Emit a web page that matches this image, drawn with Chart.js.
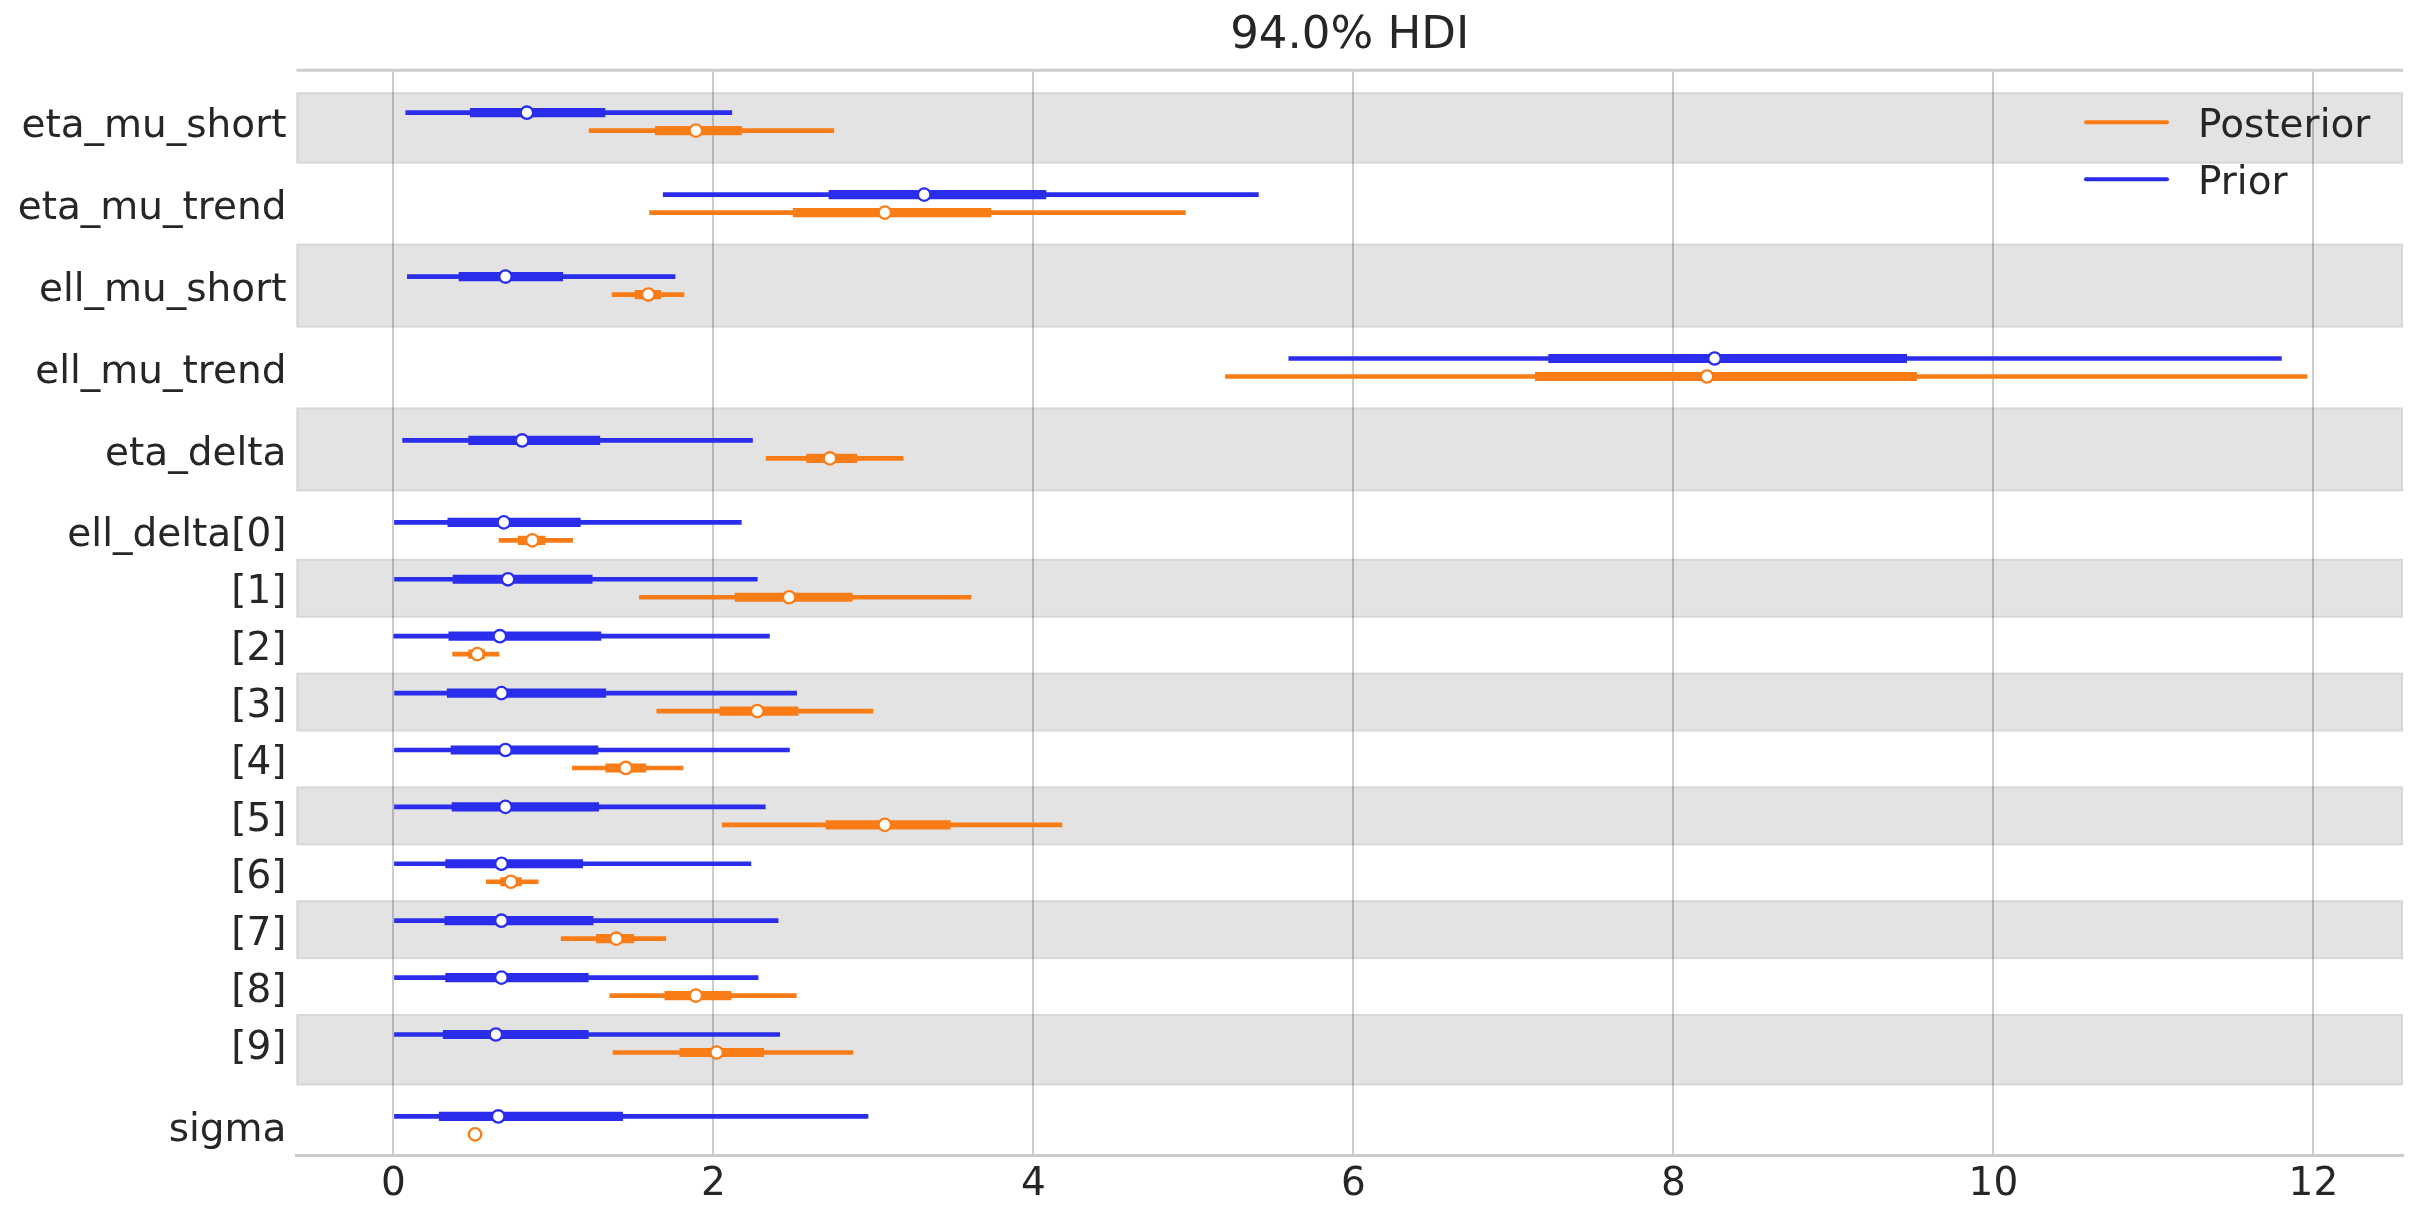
<!DOCTYPE html>
<html>
<head>
<meta charset="utf-8">
<script src="https://cdn.jsdelivr.net/npm/chart.js@4.4.1/dist/chart.umd.min.js"></script>
<style>
  html, body { margin: 0; padding: 0; background: #fff; }
  #wrap { width: 2423px; height: 1223px; }
</style>
</head>
<body>
<div id="wrap"><canvas id="forestChart"></canvas></div>
<script>
// rows of the forest plot, top to bottom
const rowLabels = ["eta_mu_short", "eta_mu_trend", "ell_mu_short", "ell_mu_trend", "eta_delta",
  "ell_delta[0]", "[1]", "[2]", "[3]", "[4]", "[5]", "[6]", "[7]", "[8]", "[9]", "sigma"];
const rowGroups = ["eta_mu_short", "eta_mu_trend", "ell_mu_short", "ell_mu_trend", "eta_delta",
  "ell_delta", "ell_delta", "ell_delta", "ell_delta", "ell_delta", "ell_delta", "ell_delta",
  "ell_delta", "ell_delta", "ell_delta", "sigma"];
const xTicks = [0, 2, 4, 6, 8, 10, 12];
const titleText = "94.0% HDI";

// prior: 94% HDI (thin), interquartile (thick), median
const priorLow = [0.077, 1.686, 0.087, 5.596, 0.057, 0.0, 0.007, 0.002, 0.007, 0.0, 0.0, 0.0, 0.0, 0.0, 0.0, 0.0];
const priorQ25 = [0.48, 2.722, 0.41, 7.22, 0.47, 0.34, 0.372, 0.346, 0.336, 0.36, 0.366, 0.326, 0.321, 0.326, 0.311, 0.286];
const priorMed = [0.834, 3.317, 0.70, 8.257, 0.804, 0.69, 0.716, 0.665, 0.675, 0.70, 0.70, 0.675, 0.675, 0.675, 0.64, 0.655];
const priorQ75 = [1.322, 4.078, 1.058, 9.458, 1.29, 1.168, 1.242, 1.297, 1.327, 1.278, 1.283, 1.183, 1.248, 1.218, 1.218, 1.432];
const priorHigh = [2.115, 5.406, 1.76, 11.8, 2.244, 2.174, 2.274, 2.35, 2.52, 2.475, 2.324, 2.234, 2.404, 2.279, 2.414, 2.966];

// posterior
const postLow = [1.223, 1.601, 1.366, 5.2, 2.329, 0.66, 1.537, 0.37, 1.646, 1.118, 2.055, 0.58, 1.048, 1.352, 1.372, 0.505];
const postQ25 = [1.637, 2.498, 1.51, 7.137, 2.583, 0.78, 2.135, 0.47, 2.04, 1.327, 2.703, 0.67, 1.268, 1.696, 1.79, 0.505];
const postMed = [1.89, 3.071, 1.593, 8.21, 2.728, 0.868, 2.473, 0.524, 2.274, 1.452, 3.071, 0.734, 1.393, 1.89, 2.02, 0.51];
const postQ75 = [2.176, 3.734, 1.67, 9.52, 2.897, 0.947, 2.867, 0.57, 2.529, 1.577, 3.48, 0.80, 1.502, 2.11, 2.314, 0.515];
const postHigh = [2.752, 4.95, 1.816, 11.96, 3.186, 1.12, 3.61, 0.66, 2.997, 1.81, 4.178, 0.905, 1.702, 2.518, 2.872, 0.515];

const BLUE = "#2a2eec";
const ORANGE = "#fa7c17";
const FONT = "DejaVu Sans";
const TEXT = "#262626";

// row centres: step 1 inside a variable, a bit more between variables
const rowPos = [];
rowGroups.forEach((g, i) => {
  if (i === 0) rowPos.push(0);
  else rowPos.push(rowPos[i - 1] + (g === rowGroups[i - 1] ? 1 : 1.44));
});
const OFFSET = 0.158;

function intervals(lo, hi, shift) {
  return lo.map((v, i) => ({ x: [v, hi[i]], y: rowPos[i] + shift }));
}
function medians(m, shift) {
  return m.map((v, i) => ({ x: v, y: rowPos[i] + shift }));
}
function barSet(label, data, color, thick, order) {
  return {
    type: "bar", label: label, data: data, indexAxis: "y", grouped: false,
    barThickness: thick, backgroundColor: color, borderWidth: 0, borderSkipped: false, order: order
  };
}
function pointSet(label, data, color) {
  return {
    type: "scatter", label: label, data: data, showLine: false, order: 0,
    pointRadius: 6.2, pointHoverRadius: 6.2, pointBorderWidth: 2.3,
    pointBackgroundColor: "#ffffff", pointBorderColor: color
  };
}

const legendItems = [
  { label: "Posterior", color: ORANGE },
  { label: "Prior", color: BLUE }
];

const forestDecor = {
  id: "forestDecor",
  beforeDraw(chart) {
    const { ctx, chartArea: a } = chart;
    const y = chart.scales.y;
    ctx.save();
    rowPos.forEach((p, i) => {
      if (i % 2) return;
      const top = i === 0 ? p - 0.5 : (rowPos[i - 1] + p) / 2;
      const bottom = i === rowPos.length - 1 ? p + 0.5 : (p + rowPos[i + 1]) / 2;
      const y0 = y.getPixelForValue(top), y1 = y.getPixelForValue(bottom);
      ctx.fillStyle = "#e3e3e3";
      ctx.fillRect(a.left, y0, a.right - a.left, y1 - y0);
      ctx.strokeStyle = "#d7d7d7";
      ctx.lineWidth = 2;
      ctx.strokeRect(a.left + 1, y0, a.right - a.left - 2, y1 - y0);
    });
    ctx.restore();
  },
  afterDraw(chart) {
    const { ctx, chartArea: a } = chart;
    ctx.save();
    // top spine
    ctx.strokeStyle = "#cccccc";
    ctx.lineWidth = 3;
    ctx.beginPath();
    ctx.moveTo(a.left, a.top);
    ctx.lineTo(a.right, a.top);
    ctx.stroke();
    // title, centred over the axes
    ctx.fillStyle = TEXT;
    ctx.font = "45px '" + FONT + "'";
    ctx.textAlign = "center";
    ctx.textBaseline = "middle";
    ctx.fillText(titleText, (a.left + a.right) / 2, 36);
    // legend in upper right
    ctx.font = "39px '" + FONT + "'";
    ctx.textBaseline = "alphabetic";
    ctx.textAlign = "left";
    legendItems.forEach((it, i) => {
      const ly = a.top + 52 + i * 57;
      ctx.strokeStyle = it.color;
      ctx.lineWidth = 4;
      ctx.lineCap = "round";
      ctx.beginPath();
      ctx.moveTo(a.right - 317, ly);
      ctx.lineTo(a.right - 236, ly);
      ctx.stroke();
      ctx.fillStyle = TEXT;
      ctx.fillText(it.label, a.right - 205, ly + 15);
    });
    ctx.restore();
  }
};

const ctx = document.getElementById("forestChart").getContext("2d");
const forestChart = new Chart(ctx, {
  type: "bar",
  data: {
    datasets: [
      pointSet("Prior median", medians(priorMed, -OFFSET), BLUE),
      pointSet("Posterior median", medians(postMed, OFFSET), ORANGE),
      barSet("Prior IQR", intervals(priorQ25, priorQ75, -OFFSET), BLUE, 8.5, 1),
      barSet("Posterior IQR", intervals(postQ25, postQ75, OFFSET), ORANGE, 8.5, 1),
      barSet("Prior", intervals(priorLow, priorHigh, -OFFSET), BLUE, 4, 2),
      barSet("Posterior", intervals(postLow, postHigh, OFFSET), ORANGE, 4, 2)
    ]
  },
  options: {
    indexAxis: "y",
    responsive: true,
    maintainAspectRatio: false,
    animation: false,
    layout: { padding: { left: 0, right: 20, top: 70.3, bottom: 0 }, autoPadding: false },
    plugins: {
      legend: { display: false },
      tooltip: { enabled: false },
      title: { display: false }
    },
    scales: {
      x: {
        type: "linear",
        position: "bottom",
        min: -0.606,
        max: 12.56,
        beginAtZero: false,
        afterBuildTicks: (scale) => { scale.ticks = xTicks.map((v) => ({ value: v })); },
        afterFit: (scale) => { scale.height = 67.7; },
        grid: { color: "rgba(0,0,0,0.2)", lineWidth: 2, drawTicks: false },
        border: { display: true, color: "#cccccc", width: 3 },
        ticks: { color: TEXT, font: { family: FONT, size: 39 }, padding: 6, maxRotation: 0 }
      },
      y: {
        type: "linear",
        position: "left",
        reverse: true,
        min: -0.903,
        max: 18.165,
        offset: false,
        afterBuildTicks: (scale) => { scale.ticks = rowPos.map((v) => ({ value: v })); },
        afterFit: (scale) => { scale.width = 296.5; },
        grid: { display: false, offset: false, drawTicks: false },
        border: { display: false },
        ticks: {
          autoSkip: false,
          color: TEXT,
          font: { family: FONT, size: 39 },
          padding: 10,
          labelOffset: 5,
          callback: (value, index) => rowLabels[index]
        }
      }
    }
  },
  plugins: [forestDecor]
});
</script>
</body>
</html>
